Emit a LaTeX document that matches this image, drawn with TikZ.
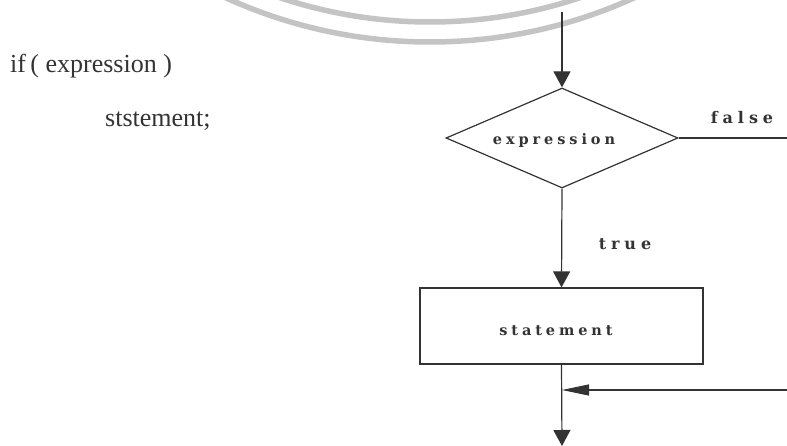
\documentclass[tikz,border=0pt]{standalone}
\usepackage{fontspec}
\setmainfont{Liberation Serif}
\newfontfamily\lblbig[LetterSpace=31]{DejaVu Serif}
\newfontfamily\lblsmall[LetterSpace=27]{DejaVu Serif}
\usetikzlibrary{shapes.geometric,arrows.meta}
\definecolor{ink}{HTML}{333333}
\definecolor{wm}{HTML}{C4C4C4}
\tikzset{
  flow/.style={draw=ink, line width=1.2pt},
  arr/.style={flow, -{Triangle[length=16pt,width=17pt]}},
  harr/.style={flow, -{Triangle[length=27pt,width=11pt]}},
  boxlbl/.style={inner sep=0pt, text=ink, font=\lblsmall\bfseries\fontsize{14.5}{16}\selectfont},
  biglbl/.style={inner sep=0pt, text=ink, font=\lblbig\bfseries\fontsize{16}{18}\selectfont},
  code/.style={inner sep=0pt, anchor=base west, text=ink, font=\fontsize{26}{30}\selectfont},
}
\begin{document}
\begin{tikzpicture}[x=1pt,y=-1pt]
\useasboundingbox (0,0) rectangle (787,446);
\fill[white] (0,0) rectangle (787,446);
% watermark arcs
\begin{scope}
\clip (0,0) rectangle (787,446);
\coordinate (wmc) at (430,-450);
\draw[wm, line width=5.5pt] (wmc) circle[radius=492pt];
\draw[wm, line width=5.5pt] (wmc) circle[radius=472pt];
\end{scope}
% code text
\node[code] (ifline) at (10,73) {if\,( expression )};
\node[code] (stline) at (105,127) {ststement;};
% shapes
\node[diamond, flow, minimum width=232pt, minimum height=100pt, inner sep=0pt] (dec) at (562,138) {};
\node[boxlbl] (dectext) at (554,141) {expression};
\node[draw=ink, line width=1.2pt, minimum width=283pt, minimum height=76pt, inner sep=0pt] (stmt) at (561.5,326) {};
\node[boxlbl] (stmttext) at (556,331) {statement};
\node[biglbl] (falselbl) at (742,118) {false};
\node[biglbl] (truelbl) at (625,244) {true};
% connectors
\coordinate (start) at (562,12);
\coordinate (falseend) at (787,138);
\coordinate (retin) at (787,390);
\coordinate (join) at (562,390);
\coordinate (endpt) at (562,446);
\draw[arr] (start) -- (dec.north);
\draw[flow] (dec.east) -- (falseend);
\draw[arr] (dec.south) -- (stmt.north);
\draw[arr] (stmt.south) -- (endpt);
\draw[harr] (retin) -- (join);
\end{tikzpicture}
\end{document}
